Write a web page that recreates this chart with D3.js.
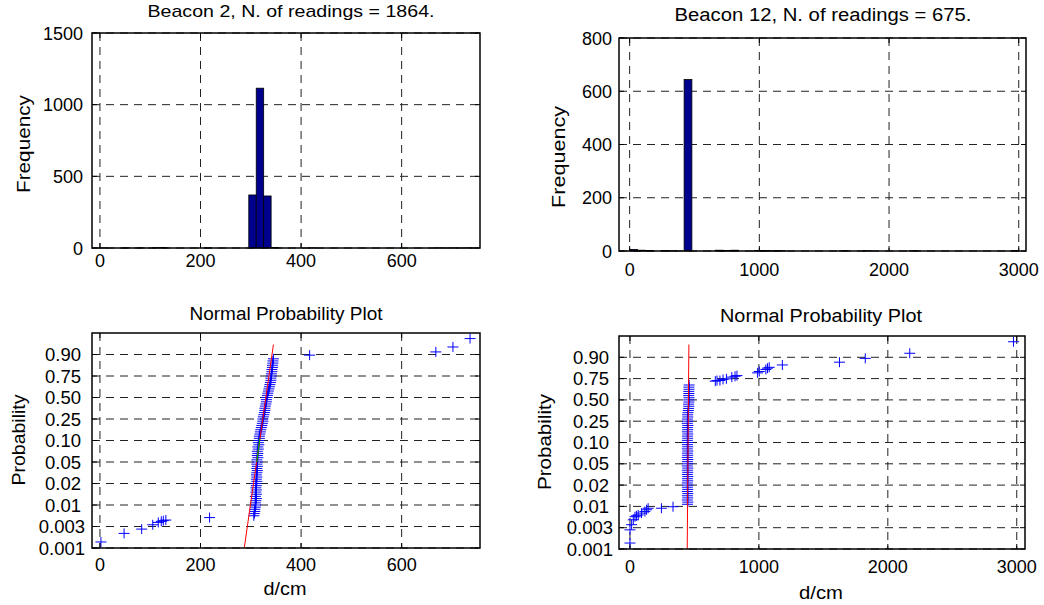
<!DOCTYPE html>
<html><head><meta charset="utf-8">
<script src="https://cdn.jsdelivr.net/npm/d3@7"></script>
<style>
body{margin:0;background:#fff}
text{font-family:"Liberation Sans",Arial,Helvetica,sans-serif;fill:#000}
</style>
</head><body>
<svg id="c" width="1044" height="605"></svg>
<script>
// ---------------- DATA ----------------
// Beacon 2 histogram (50 bins, start 0, width 14.8)
const b2Title = "Beacon 2, N. of readings = 1864.";
const b2BinStart = 0, b2BinWidth = 14.8;
const b2Counts = [1,0,0,1,0,1,0,2,3,0, 0,0,0,0,1,0,0,0,0,0, 370,1115,363,3,0,0,0,0,1,0,
                  0,0,0,0,0,0,0,0,0,0, 0,0,0,0,0,1,0,1,0,1];
const b2XTicks = [0,200,400,600];
const b2YTicks = [0,500,1000,1500];

// Beacon 12 histogram (50 bins, start 0, width 60)
const b12Title = "Beacon 12, N. of readings = 675.";
const b12BinStart = 0, b12BinWidth = 60;
const b12Counts = [6,3,2,0,1,1,0,644,0,0, 0,3,2,3,0,0,2,2,1,1, 0,0,0,0,0,0,0,1,0,0,
                   1,0,0,0,0,0,1,0,0,0, 0,0,0,0,0,0,0,0,0,1];
const b12XTicks = [0,1000,2000,3000];
const b12YTicks = [0,200,400,600,800];

// Normal probability axis
const probTicks = [0.001,0.003,0.01,0.02,0.05,0.10,0.25,0.50,0.75,0.90];
const probTickLabels = ["0.001","0.003","0.01","0.02","0.05","0.10","0.25","0.50","0.75","0.90"];
const probTop = 0.95;

// Beacon 2 normal plot points (d/cm, probability)
const b2NpX = [2,48,83,105,116,122,126,131,218,
  306,307,308,308,309,
  310,309,310,311,309,311,310,311,310,311,
  310,312,311,312,311,312,313,312,313,312,
  313,312,314,313,314,313,315,314,316,315,
  316,317,317,318,319,320,321,322,323,324,
  324,325,326,327,328,328,329,330,331,331,
  332,333,334,335,336,337,338,339,340,340,
  341,341,342,342,343,343,344,344,345,
  417,668,702,736];
const b2NpP = [0.00156,0.00236,0.00276,0.00356,0.00433,0.00468,0.0049,0.0051,0.0059,
  0.0065,0.0072,0.0079,0.0086,0.0093,
  0.010,0.011,0.012,0.013,0.014,0.015,0.016,0.017,0.018,0.019,
  0.020,0.023,0.026,0.029,0.032,0.035,0.038,0.041,0.044,0.047,
  0.050,0.055,0.060,0.065,0.070,0.075,0.080,0.085,0.090,0.095,
  0.100,0.115,0.130,0.145,0.160,0.175,0.190,0.205,0.220,0.235,
  0.250,0.275,0.300,0.325,0.350,0.375,0.400,0.425,0.450,0.475,
  0.500,0.525,0.550,0.575,0.600,0.625,0.650,0.675,0.700,0.725,
  0.750,0.765,0.780,0.795,0.810,0.825,0.840,0.855,0.870,
  0.8955,0.906,0.9175,0.937];
const b2FitX = [287,345], b2FitP = [0.001,0.923];
const b2MidX = [312,318], b2MidP = [0.05,0.115];

// Beacon 12 normal plot points
const b12NpX = [0,0,13,26,39,50,64,90,116,129,141,244,334,
  446,449,445,448,446,449,445,448,446,
  449,445,448,446,449,445,448,446,449,445,
  448,446,449,445,448,446,449,445,448,446,
  449,445,448,446,449,445,448,446,449,445,
  448,446,449,447,450,452,454,456,455,457,
  456,458,455,457,456,458,457,459,
  662,675,698,722,748,790,815,830,990,1003,1054,1067,1080,1182,1625,1825,2170,2975];
const b12NpP = [0.00156,0.0028,0.00398,0.0056,0.0066,0.0069,0.0072,0.0078,0.0083,0.0089,0.0094,0.0094,0.0099,
  0.011,0.012,0.013,0.014,0.015,0.016,0.017,0.018,0.019,
  0.020,0.023,0.026,0.029,0.032,0.035,0.038,0.041,0.044,0.047,
  0.050,0.055,0.060,0.065,0.070,0.075,0.080,0.085,0.090,0.095,
  0.100,0.115,0.130,0.145,0.160,0.175,0.190,0.205,0.220,0.235,
  0.250,0.275,0.300,0.325,0.350,0.375,0.400,0.425,0.450,0.475,
  0.500,0.525,0.550,0.575,0.600,0.625,0.650,0.675,
  0.72,0.7275,0.7275,0.74,0.7475,0.7605,0.7665,0.771,0.7905,0.80,0.8145,0.8235,0.8295,0.846,0.8655,0.8925,0.9095,0.9365];
const b12FitX = [444,457], b12FitP = [0.001,0.93];

// ---------------- DRAWING ----------------
const svg = d3.select("#c");
const BAR = "#00008F", MARK = "#0000FF";

function frame(g, x, y, xTicks, yTicks, yLabels, o) {
  const [X0,X1] = x.range();
  const yr = y.range(), Y1 = yr[0], Y0 = yr[yr.length-1];
  const grid = g.append("g").attr("stroke","#222").attr("stroke-width",1).attr("stroke-dasharray","8,6").attr("fill","none");
  xTicks.forEach(t => grid.append("line").attr("x1",x(t)).attr("x2",x(t)).attr("y1",Y0).attr("y2",Y1));
  yTicks.forEach(t => grid.append("line").attr("x1",X0).attr("x2",X1).attr("y1",y(t)).attr("y2",y(t)));
  o.draw && o.draw();
  const tk = g.append("g").attr("stroke","#000").attr("stroke-width",1);
  xTicks.forEach(t => {
    tk.append("line").attr("x1",x(t)).attr("x2",x(t)).attr("y1",Y1).attr("y2",Y1-5);
    tk.append("line").attr("x1",x(t)).attr("x2",x(t)).attr("y1",Y0).attr("y2",Y0+5);
  });
  yTicks.forEach(t => {
    tk.append("line").attr("x1",X0).attr("x2",X0+5).attr("y1",y(t)).attr("y2",y(t));
    tk.append("line").attr("x1",X1).attr("x2",X1-5).attr("y1",y(t)).attr("y2",y(t));
  });
  g.append("rect").attr("x",X0).attr("y",Y0).attr("width",X1-X0).attr("height",Y1-Y0)
    .attr("fill","none").attr("stroke","#000").attr("stroke-width",1.5);
  xTicks.forEach(t => g.append("text").attr("x",x(t)).attr("y",Y1+o.xLabOff).attr("text-anchor","middle")
    .attr("font-size",18).text(d3.format("d")(t)));
  yTicks.forEach((t,i) => {
    const lab = yLabels ? yLabels[i] : d3.format("d")(t);
    const dx = (yLabels && lab.length < 5) ? -4 : 0;
    g.append("text").attr("x",o.yLabX + dx).attr("y",y(t)+6.5).attr("text-anchor","end")
      .attr("font-size",yLabels ? 18.5 : 18).text(lab);
  });
}

function label(g, txt, x, y, len, size, rot) {
  const t = g.append("text").attr("text-anchor","middle").attr("font-size",size)
    .attr("textLength",len).attr("lengthAdjust","spacingAndGlyphs").text(txt);
  if (rot) t.attr("transform",`translate(${x},${y}) rotate(-90)`);
  else t.attr("x",x).attr("y",y);
}

function hist(g, x, y, start, w, counts) {
  g.append("g").selectAll("rect").data(counts.map((c,i)=>({c,i})).filter(d=>d.c>0)).join("rect")
    .attr("x",d=>x(start+d.i*w)).attr("width",d=>x(start+(d.i+1)*w)-x(start+d.i*w))
    .attr("y",d=>y(d.c)).attr("height",d=>y(0)-y(d.c))
    .attr("fill",BAR).attr("stroke","#000").attr("stroke-width",0.8);
}

function probScale(bottom, step) {
  const dom = probTicks.concat([probTop]);
  return d3.scaleLinear().domain(dom).range(dom.map((d,i)=>bottom - i*step));
}

function npPlot(g, x, y, xs, ps, fitX, fitP, midX, midP) {
  const pts = xs.map((v,i)=>[x(v), y(ps[i])]);
  g.append("g").selectAll("path").data(pts).join("path")
    .attr("d",d=>`M${d[0]-5.5},${d[1]}H${d[0]+5.5}M${d[0]},${d[1]-5}V${d[1]+5}`)
    .attr("stroke",MARK).attr("stroke-width",1).attr("fill","none");
  const line = d3.line().x(d=>x(d[0])).y(d=>y(d[1]));
  g.append("path").attr("d",line(fitX.map((v,i)=>[v,fitP[i]]))).attr("stroke","#FF0000").attr("stroke-width",1).attr("fill","none");
  if (midX) g.append("path").attr("d",line(midX.map((v,i)=>[v,midP[i]]))).attr("stroke","#00A000").attr("stroke-width",1.2).attr("fill","none");
}

// Top-left: Beacon 2 histogram
{
  const g = svg.append("g");
  const x = d3.scaleLinear().domain([-15.8,755.8]).range([92,480]);
  const y = d3.scaleLinear().domain([0,1500]).range([248,33]);
  frame(g, x, y, b2XTicks, b2YTicks, null, {xLabOff:19, yLabX:83,
    draw:()=>hist(g, x, y, b2BinStart, b2BinWidth, b2Counts)});
  label(g, b2Title, 291, 17, 287, 17);
  label(g, "Frequency", 29.5, 144, 98, 18, true);
}
// Top-right: Beacon 12 histogram
{
  const g = svg.append("g");
  const x = d3.scaleLinear().domain([-82,3056]).range([619,1026]);
  const y = d3.scaleLinear().domain([0,800]).range([251,38]);
  frame(g, x, y, b12XTicks, b12YTicks, null, {xLabOff:25, yLabX:612,
    draw:()=>hist(g, x, y, b12BinStart, b12BinWidth, b12Counts)});
  label(g, b12Title, 823, 21, 297, 18);
  label(g, "Frequency", 565, 157, 102, 18, true);
}
// Bottom-left: Beacon 2 normal plot
{
  const g = svg.append("g");
  const x = d3.scaleLinear().domain([-15.8,755.8]).range([92,480]);
  const y = probScale(548, 21.5);
  frame(g, x, y, b2XTicks, probTicks, probTickLabels, {xLabOff:23, yLabX:85,
    draw:()=>npPlot(g, x, y, b2NpX, b2NpP, b2FitX, b2FitP, b2MidX, b2MidP)});
  label(g, "Normal Probability Plot", 286, 320, 193, 18);
  label(g, "d/cm", 285, 595, 43, 18);
  label(g, "Probability", 25, 440, 91, 18, true);
}
// Bottom-right: Beacon 12 normal plot
{
  const g = svg.append("g");
  const x = d3.scaleLinear().domain([-85,3064]).range([619,1025]);
  const y = probScale(549, 21.3);
  frame(g, x, y, b12XTicks, probTicks, probTickLabels, {xLabOff:24, yLabX:613,
    draw:()=>npPlot(g, x, y, b12NpX, b12NpP, b12FitX, b12FitP)});
  label(g, "Normal Probability Plot", 821, 322, 202, 18);
  label(g, "d/cm", 821, 599, 44, 18);
  label(g, "Probability", 551, 442, 96, 18, true);
}
</script>
</body></html>
